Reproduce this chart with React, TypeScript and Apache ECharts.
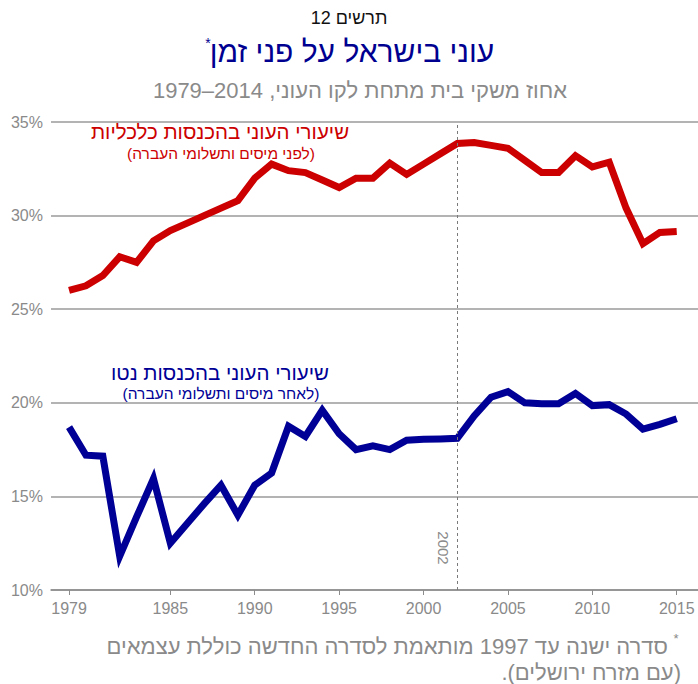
import React, { useEffect, useRef } from "react";
import * as echarts from "echarts";

const years = [
  1979, 1980, 1981, 1982, 1983, 1984, 1985, 1986, 1987, 1988, 1989, 1990, 1991,
  1992, 1993, 1994, 1995, 1996, 1997, 1998, 1999, 2000, 2001, 2002, 2003, 2004,
  2005, 2006, 2007, 2008, 2009, 2010, 2011, 2012, 2013, 2014, 2015,
];

const economicIncome = [
  26.0, 26.25, 26.8, 27.8, 27.5, 28.65, 29.2, 29.6, 30.0, 30.4, 30.8, 32.0, 32.75,
  32.4, 32.3, 31.9, 31.5, 32.0, 32.0, 32.8, 32.2, 32.75, 33.3, 33.85, 33.9, 33.75,
  33.6, 32.95, 32.3, 32.3, 33.2, 32.6, 32.85, 30.4, 28.5, 29.1, 29.15,
];

const netIncome = [
  18.7, 17.2, 17.15, 11.8, 13.9, 15.95, 12.5, 13.55, 14.6, 15.6, 14.0, 15.6, 16.25,
  18.75, 18.2, 19.6, 18.35, 17.5, 17.7, 17.5, 18.0, 18.05, 18.07, 18.1, 19.3, 20.3,
  20.6, 20.0, 19.95, 19.95, 20.5, 19.85, 19.9, 19.4, 18.6, 18.85, 19.15,
];

const xTickYears = [1979, 1985, 1990, 1995, 2000, 2005, 2010, 2015];
const markYear = 2002;

const RLE = "\u202B";
const PDF = "\u202C";
const LRI = "\u2066";
const PDI = "\u2069";

const chartLabel = "תרשים 12";
const titleText = "עוני בישראל על פני זמן";
const subtitleText = "אחוז משקי בית מתחת לקו העוני, ";
const subtitleRange = "1979–2014";
const economicLabel = "שיעורי העוני בהכנסות כלכליות";
const economicSub = "(לפני מיסים ותשלומי העברה)";
const netLabel = "שיעורי העוני בהכנסות נטו";
const netSub = "(לאחר מיסים ותשלומי העברה)";
const footLine1 = "סדרה ישנה עד 1997 מותאמת לסדרה החדשה כוללת עצמאים";
const footLine2 = "(עם מזרח ירושלים).";

const FONT = "'Liberation Sans', Arial, sans-serif";
const RED = "#CC0000";
const BLUE = "#000096";
const GRAY = "#8a8a8a";

const rtl = (s: string) => RLE + s + PDF;

export default function App() {
  const ref = useRef<HTMLDivElement>(null);

  useEffect(() => {
    if (!ref.current) return;
    const chart = echarts.init(ref.current, null, { renderer: "svg" });

    const txt = (
      x: number,
      y: number,
      text: string,
      fontSize: number,
      fill: string,
      align: string = "center",
      extra: any = {}
    ) => ({
      type: "text",
      x,
      y,
      silent: true,
      ...extra,
      style: {
        text,
        fontSize,
        fontFamily: FONT,
        fill,
        align,
        verticalAlign: "middle",
      },
    });

    chart.setOption({
      animation: false,
      backgroundColor: "#ffffff",
      grid: {
        left: 51,
        right: 0,
        top: 122,
        bottom: 94,
        containLabel: false,
        outerBoundsMode: "none",
      },
      xAxis: {
        type: "value",
        min: 1977.93,
        max: 2016.26,
        axisLine: { show: true, lineStyle: { color: "#8c8c8c", width: 1.5 } },
        axisTick: {
          show: true,
          customValues: xTickYears,
          length: 5,
          lineStyle: { color: "#8c8c8c", width: 1 },
        },
        axisLabel: {
          customValues: xTickYears,
          color: GRAY,
          fontSize: 16,
          fontFamily: FONT,
          margin: 10,
          formatter: (v: number) => String(v),
        },
        splitLine: { show: false },
      },
      yAxis: {
        type: "value",
        min: 10,
        max: 35,
        interval: 5,
        axisLine: { show: false },
        axisTick: { show: false },
        axisLabel: {
          color: GRAY,
          fontSize: 16,
          fontFamily: FONT,
          margin: 8,
          formatter: "{value}%",
        },
        splitLine: { show: true, lineStyle: { color: "#9a9a9a", width: 1.5 } },
      },
      series: [
        {
          type: "line",
          data: years.map((y, i) => [y, economicIncome[i]]),
          showSymbol: false,
          symbol: "none",
          lineStyle: { color: RED, width: 7, join: "miter" },
          z: 3,
          markLine: {
            silent: true,
            symbol: "none",
            label: { show: false },
            lineStyle: { color: "#7a7a7a", type: [3, 3], width: 1 },
            data: [{ xAxis: markYear }],
          },
        },
        {
          type: "line",
          data: years.map((y, i) => [y, netIncome[i]]),
          showSymbol: false,
          symbol: "none",
          lineStyle: { color: BLUE, width: 7, join: "miter" },
          z: 3,
        },
      ],
      graphic: [
        txt(349, 18, rtl(chartLabel), 18, "#111111"),
        txt(352, 51, rtl(titleText), 30, "#000090"),
        txt(208, 43, "*", 14, "#000090"),
        txt(
          360,
          90,
          rtl(subtitleText + LRI + subtitleRange + PDI),
          22,
          GRAY
        ),
        txt(220, 131, rtl(economicLabel), 20.5, RED),
        txt(221, 153, rtl(economicSub), 15.5, RED),
        txt(220, 372, rtl(netLabel), 20.5, BLUE),
        txt(221, 393, rtl(netSub), 15.5, BLUE),
        txt(443, 548, "2002", 15, GRAY, "center", { rotation: -Math.PI / 2 }),
        txt(668, 646, rtl(footLine1), 22, GRAY, "right"),
        txt(676, 638, "*", 13, GRAY),
        txt(681, 672, rtl(footLine2), 22, GRAY, "right"),
      ],
    });

    return () => chart.dispose();
  }, []);

  return (
    <div
      ref={ref}
      style={{ position: "fixed", left: 0, top: 0, width: 698, height: 684 }}
    />
  );
}
